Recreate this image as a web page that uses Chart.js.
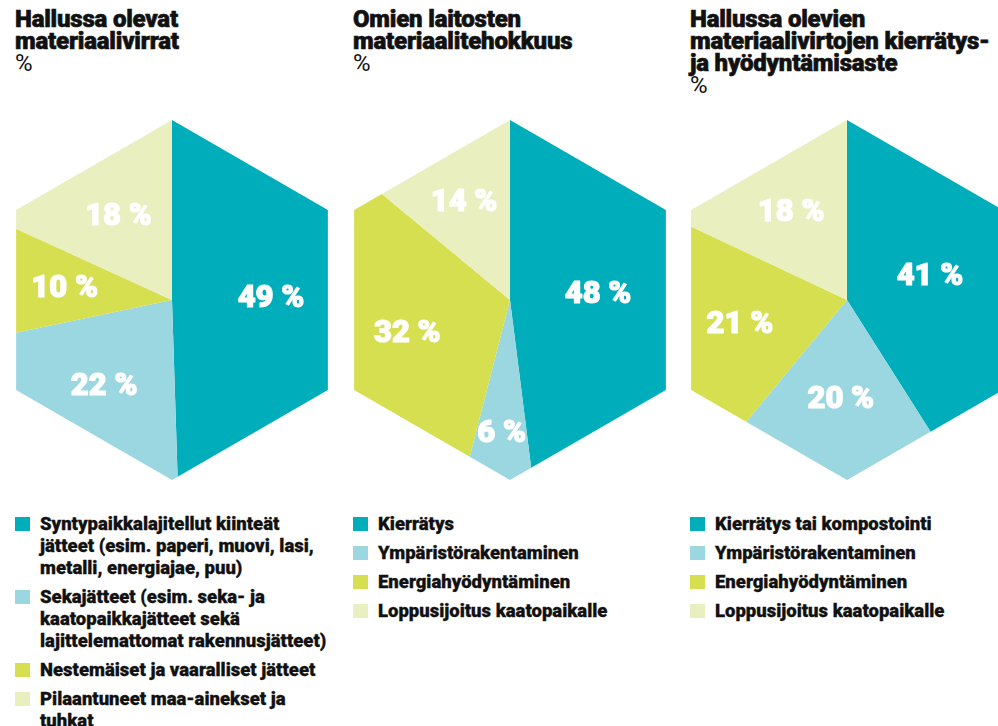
<!DOCTYPE html>
<html lang="fi">
<head>
<meta charset="utf-8">
<script src="https://cdn.jsdelivr.net/npm/chart.js@4.4.1/dist/chart.umd.min.js"></script>
<style>
    html, body {
        margin: 0;
        padding: 0;
        background: #fff;
    }
    body {
        width: 998px;
        height: 726px;
        overflow: hidden;
        position: relative;
        font-family: Roboto, 'Noto Sans', sans-serif;
        color: #111;
    }
    .col {
        position: absolute;
        top: 0;
        width: 330px;
        height: 726px;
    }
    .col h2 {
        position: absolute;
        top: 8px;
        left: 0;
        margin: 0;
        font-size: 24px;
        font-weight: 900;
        line-height: 22px;
        letter-spacing: -0.2px;
        -webkit-text-stroke: 0.6px #111;
        white-space: nowrap;
    }
    .col h2 .unit {
        font-weight: 400;
        -webkit-text-stroke: 0;
    }
    .col canvas {
        position: absolute;
        top: 120px;
        left: -23px;
    }
    .legend {
        position: absolute;
        top: 513px;
        left: 0;
        margin: 0;
        padding: 0;
        list-style: none;
        font-size: 18.5px;
        font-weight: 900;
        line-height: 22px;
        -webkit-text-stroke: 0.3px #111;
        white-space: nowrap;
    }
    .legend li {
        position: relative;
        padding-left: 25px;
        margin-bottom: 7px;
    }
    .legend li span {
        position: absolute;
        left: 0;
        top: 4px;
        width: 15px;
        height: 14px;
    }
</style>
</head>
<body>
<div class="col" id="col1" style="left:15px"><h2></h2><canvas width="360" height="360"></canvas><ul class="legend"></ul></div>
<div class="col" id="col2" style="left:353px"><h2></h2><canvas width="360" height="360"></canvas><ul class="legend"></ul></div>
<div class="col" id="col3" style="left:690px"><h2></h2><canvas width="360" height="360"></canvas><ul class="legend"></ul></div>

<script>
// --- DATA ---
const unit = '%';
const colours = ['#00aebb', '#9bd7e0', '#d5df4f', '#e9efbe'];

const title1 = ['Hallussa olevat', 'materiaalivirrat'];
const labels1 = [
    ['Syntypaikkalajitellut kiinteät', 'jätteet (esim. paperi, muovi, lasi,', 'metalli, energiajae, puu)'],
    ['Sekajätteet (esim. seka- ja', 'kaatopaikkajätteet sekä', 'lajittelemattomat rakennusjätteet)'],
    'Nestemäiset ja vaaralliset jätteet',
    ['Pilaantuneet maa-ainekset ja', 'tuhkat']
];
const values1 = [49, 22, 10, 18];

const title2 = ['Omien laitosten', 'materiaalitehokkuus'];
const labels2 = ['Kierrätys', 'Ympäristörakentaminen', 'Energiahyödyntäminen', 'Loppusijoitus kaatopaikalle'];
const values2 = [48, 6, 32, 14];

const title3 = ['Hallussa olevien', 'materiaalivirtojen kierrätys-', 'ja hyödyntämisaste'];
const labels3 = ['Kierrätys tai kompostointi', 'Ympäristörakentaminen', 'Energiahyödyntäminen', 'Loppusijoitus kaatopaikalle'];
const values3 = [41, 20, 21, 18];

// leikkaa piirakan kuusikulmioksi (kärki ylöspäin)
const hexClip = {
    id: 'hexClip',
    beforeDatasetsDraw(chart) {
        const arc = chart.getDatasetMeta(0).data[0];
        if (!arc) return;
        const { x, y, outerRadius: r } = arc;
        const ctx = chart.ctx;
        ctx.save();
        ctx.beginPath();
        for (let i = 0; i < 6; i++) {
            const a = Math.PI / 3 * i - Math.PI / 2;
            const px = x + r * Math.cos(a);
            const py = y + r * Math.sin(a);
            if (i === 0) ctx.moveTo(px, py); else ctx.lineTo(px, py);
        }
        ctx.closePath();
        ctx.clip();
    },
    afterDatasetsDraw(chart) {
        chart.ctx.restore();
    }
};

// prosenttiluvut siivujen päälle
const sliceLabels = {
    id: 'sliceLabels',
    afterDatasetsDraw(chart, args, opts) {
        const ctx = chart.ctx;
        const values = chart.data.datasets[0].data;
        ctx.save();
        ctx.fillStyle = '#fff';
        ctx.strokeStyle = '#fff';
        ctx.lineWidth = 1.2;
        ctx.lineJoin = 'round';
        ctx.font = '900 31px Roboto, sans-serif';
        ctx.textAlign = 'center';
        ctx.textBaseline = 'middle';
        chart.getDatasetMeta(0).data.forEach((arc, i) => {
            const mid = (arc.startAngle + arc.endAngle) / 2;
            const r = arc.outerRadius * (opts.radius ? opts.radius[i] : 0.58);
            const tx = arc.x + r * Math.cos(mid);
            const ty = arc.y + r * Math.sin(mid) + 1;
            ctx.strokeText(values[i] + ' %', tx, ty);
            ctx.fillText(values[i] + ' %', tx, ty);
        });
        ctx.restore();
    }
};

function teeKaavio(colId, title, labels, values, labelRadius) {
    const col = document.getElementById(colId);
    col.querySelector('h2').innerHTML = title.join('<br>') + '<br><span class="unit">' + unit + '</span>';

    const chart = new Chart(col.querySelector('canvas').getContext('2d'), {
        type: 'pie',
        data: {
            labels: labels,
            datasets: [{
                data: values,
                backgroundColor: colours,
                borderWidth: 0
            }]
        },
        options: {
            responsive: false,
            animation: false,
            layout: { padding: 0 },
            plugins: {
                legend: { display: false },
                tooltip: { enabled: false },
                sliceLabels: { radius: labelRadius }
            }
        },
        plugins: [hexClip, sliceLabels]
    });

    // oma HTML-selite, koska tekstit rivittyvät
    const legend = col.querySelector('.legend');
    chart.data.labels.forEach((label, i) => {
        const li = document.createElement('li');
        const box = document.createElement('span');
        box.style.background = chart.data.datasets[0].backgroundColor[i];
        li.appendChild(box);
        const lines = Array.isArray(label) ? label : [label];
        lines.forEach((line, j) => {
            if (j > 0) li.appendChild(document.createElement('br'));
            li.appendChild(document.createTextNode(line));
        });
        legend.appendChild(li);
    });
    return chart;
}

teeKaavio('col1', title1, labels1, values1, [0.55, 0.61, 0.6, 0.55]);
teeKaavio('col2', title2, labels2, values2, [0.49, 0.74, 0.6, 0.6]);
teeKaavio('col3', title3, labels3, values3, [0.48, 0.55, 0.61, 0.58]);
</script>
</body>
</html>
